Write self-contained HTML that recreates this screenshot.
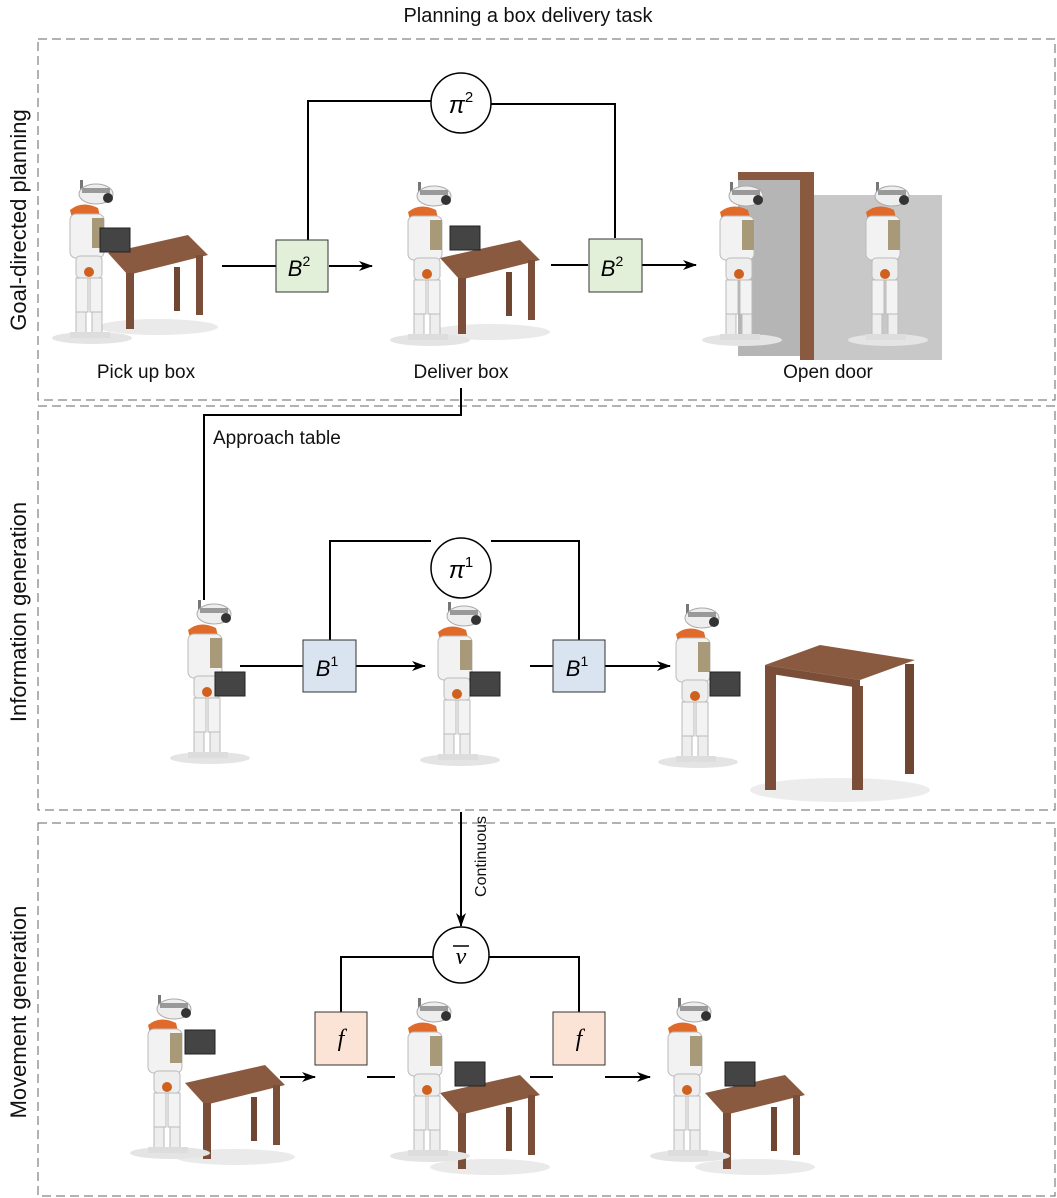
<!DOCTYPE html>
<html><head><meta charset="utf-8"><style>
html,body{margin:0;padding:0;background:#fff;}
svg{display:block;font-family:"Liberation Sans",sans-serif;}
</style></head><body>
<svg width="1057" height="1198" viewBox="0 0 1057 1198" xmlns="http://www.w3.org/2000/svg">
<defs>
<marker id="ar" markerWidth="14" markerHeight="12" refX="13" refY="6" orient="auto" markerUnits="userSpaceOnUse">
<path d="M0,1 L14,6 L0,11 L4,6 Z" fill="#000"/></marker>
<g id="robot">
<ellipse cx="30" cy="158" rx="40" ry="6" fill="#e4e4e4"/>
<rect x="18" y="0" width="3" height="14" fill="#777"/>
<ellipse cx="34" cy="14" rx="17" ry="10" fill="#eee" stroke="#aaa"/>
<rect x="20" y="8" width="28" height="5" fill="#999"/>
<circle cx="46" cy="18" r="5" fill="#333"/>
<path d="M8,30 Q20,20 36,28 L38,36 L10,38 Z" fill="#e06a2a"/>
<rect x="8" y="34" width="34" height="44" rx="6" fill="#f2f2f2" stroke="#bbb"/>
<rect x="30" y="38" width="12" height="30" fill="#a89a78"/>
<rect x="14" y="76" width="26" height="22" rx="4" fill="#eee" stroke="#bbb"/>
<circle cx="27" cy="92" r="5" fill="#d0601e"/>
<rect x="14" y="98" width="12" height="34" fill="#f3f3f3" stroke="#bbb"/>
<rect x="28" y="98" width="12" height="34" fill="#f3f3f3" stroke="#bbb"/>
<rect x="14" y="132" width="10" height="22" fill="#eee" stroke="#bbb"/>
<rect x="30" y="132" width="10" height="22" fill="#eee" stroke="#bbb"/>
<rect x="8" y="152" width="20" height="6" fill="#ddd"/>
<rect x="28" y="152" width="20" height="6" fill="#ddd"/>
</g>
<g id="table">
<ellipse cx="50" cy="92" rx="60" ry="8" fill="#eaeaea"/>
<polygon points="0,18 80,0 100,20 20,40" fill="#8a5a40"/>
<rect x="18" y="38" width="8" height="56" fill="#7a4e38"/>
<rect x="88" y="20" width="7" height="60" fill="#7a4e38"/>
<rect x="66" y="32" width="6" height="44" fill="#6f4632"/>
</g>
<g id="box"><rect x="0" y="0" width="30" height="24" fill="#444" stroke="#222"/></g>
</defs>

<text x="528" y="22" font-size="20" text-anchor="middle" fill="#111">Planning a box delivery task</text>

<g fill="none" stroke="#666" stroke-width="1" stroke-dasharray="9,5">
<rect x="38" y="39" width="1017" height="361"/>
<rect x="38" y="406" width="1017" height="404"/>
<rect x="38" y="823" width="1017" height="373"/>
</g>

<g font-size="22" fill="#111" text-anchor="middle">
<text transform="translate(26,220) rotate(-90)">Goal-directed planning</text>
<text transform="translate(26,612) rotate(-90)">Information generation</text>
<text transform="translate(26,1012) rotate(-90)">Movement generation</text>
</g>

<use href="#table" x="108" y="235"/>
<use href="#robot" x="62" y="180"/>
<use href="#box" x="100" y="228"/>
<use href="#table" x="440" y="240"/>
<use href="#robot" x="400" y="182"/>
<use href="#box" x="450" y="226"/>
<rect x="810" y="195" width="132" height="165" fill="#c8c8c8"/>
<rect x="738" y="176" width="72" height="180" fill="#b5b5b5"/>
<rect x="800" y="172" width="14" height="188" fill="#8a5a40"/>
<rect x="738" y="172" width="76" height="8" fill="#8a5a40"/>
<use href="#robot" x="712" y="182"/>
<use href="#robot" x="858" y="182"/>

<g font-size="19" fill="#111" text-anchor="middle">
<text x="146" y="378">Pick up box</text>
<text x="461" y="378">Deliver box</text>
<text x="828" y="378">Open door</text>
</g>

<g stroke="#000" stroke-width="2" fill="none">
<path d="M308,240 V101 H431"/>
<path d="M491,104 H615 V238"/>
<line x1="222" y1="266" x2="276" y2="266"/>
<line x1="329" y1="266" x2="372" y2="266" marker-end="url(#ar)"/>
<line x1="551" y1="265" x2="588" y2="265"/>
<line x1="642" y1="265" x2="696" y2="265" marker-end="url(#ar)"/>
<path d="M461,388 V415 H204 V600"/>
</g>
<circle cx="461" cy="103" r="30" fill="#fff" stroke="#000" stroke-width="1.5"/>
<text x="461" y="113" font-size="24" font-style="italic" text-anchor="middle">π<tspan font-size="15" font-style="normal" dy="-11">2</tspan></text>
<rect x="276" y="240" width="52" height="52" fill="#e2efd9" stroke="#333"/>
<rect x="589" y="239" width="53" height="53" fill="#e2efd9" stroke="#333"/>
<text x="299" y="276" font-size="22" font-style="italic" text-anchor="middle">B<tspan font-size="14" font-style="normal" dy="-10">2</tspan></text>
<text x="612" y="276" font-size="22" font-style="italic" text-anchor="middle">B<tspan font-size="14" font-style="normal" dy="-10">2</tspan></text>

<text x="213" y="444" font-size="19" fill="#111">Approach table</text>

<use href="#robot" x="180" y="600"/>
<use href="#box" x="215" y="672"/>
<use href="#robot" x="430" y="602"/>
<use href="#box" x="470" y="672"/>
<use href="#robot" x="668" y="604"/>
<use href="#box" x="710" y="672"/>
<ellipse cx="840" cy="790" rx="90" ry="12" fill="#ececec"/>
<polygon points="765,665 820,645 915,660 860,680" fill="#8a5a40"/>
<polygon points="765,665 860,680 860,688 765,673" fill="#7a4e38"/>
<rect x="765" y="672" width="11" height="118" fill="#7a4e38"/>
<rect x="852" y="686" width="11" height="104" fill="#7a4e38"/>
<rect x="905" y="664" width="9" height="110" fill="#6f4632"/>

<g stroke="#000" stroke-width="2" fill="none">
<path d="M330,640 V541 H431"/>
<path d="M491,541 H579 V640"/>
<line x1="240" y1="666" x2="303" y2="666"/>
<line x1="356" y1="666" x2="425" y2="666" marker-end="url(#ar)"/>
<line x1="530" y1="666" x2="553" y2="666"/>
<line x1="605" y1="666" x2="670" y2="666" marker-end="url(#ar)"/>
<line x1="461" y1="812" x2="461" y2="926" marker-end="url(#ar)"/>
</g>
<circle cx="461" cy="568" r="30" fill="#fff" stroke="#000" stroke-width="1.5"/>
<text x="461" y="578" font-size="24" font-style="italic" text-anchor="middle">π<tspan font-size="15" font-style="normal" dy="-11">1</tspan></text>
<rect x="303" y="640" width="53" height="52" fill="#dae3f0" stroke="#333"/>
<rect x="553" y="640" width="52" height="52" fill="#dae3f0" stroke="#333"/>
<text x="327" y="676" font-size="22" font-style="italic" text-anchor="middle">B<tspan font-size="14" font-style="normal" dy="-10">1</tspan></text>
<text x="577" y="676" font-size="22" font-style="italic" text-anchor="middle">B<tspan font-size="14" font-style="normal" dy="-10">1</tspan></text>
<text transform="translate(486,816) rotate(-90)" font-size="16" fill="#111" text-anchor="end">Continuous</text>

<use href="#table" x="185" y="1065"/>
<use href="#robot" x="140" y="995"/>
<use href="#box" x="185" y="1030"/>
<use href="#table" x="440" y="1075"/>
<use href="#robot" x="400" y="998"/>
<use href="#box" x="455" y="1062"/>
<use href="#table" x="705" y="1075"/>
<use href="#robot" x="660" y="998"/>
<use href="#box" x="725" y="1062"/>

<g stroke="#000" stroke-width="2" fill="none">
<path d="M341,1012 V957 H433"/>
<path d="M489,957 H579 V1012"/>
<line x1="280" y1="1077" x2="315" y2="1077" marker-end="url(#ar)"/>
<line x1="367" y1="1077" x2="395" y2="1077"/>
<line x1="530" y1="1077" x2="553" y2="1077"/>
<line x1="605" y1="1077" x2="650" y2="1077" marker-end="url(#ar)"/>
</g>
<circle cx="461" cy="955" r="28" fill="#fff" stroke="#000" stroke-width="1.5"/>
<text x="461" y="964" font-size="24" font-style="italic" font-family="Liberation Serif,serif" text-anchor="middle">ν</text>
<line x1="453" y1="946" x2="469" y2="946" stroke="#000" stroke-width="1.5"/>
<rect x="315" y="1012" width="52" height="53" fill="#fbe4d6" stroke="#333"/>
<rect x="553" y="1012" width="52" height="53" fill="#fbe4d6" stroke="#333"/>
<text x="341" y="1046" font-size="24" font-style="italic" font-family="Liberation Serif,serif" text-anchor="middle">f</text>
<text x="579" y="1046" font-size="24" font-style="italic" font-family="Liberation Serif,serif" text-anchor="middle">f</text>
</svg>
</body></html>
